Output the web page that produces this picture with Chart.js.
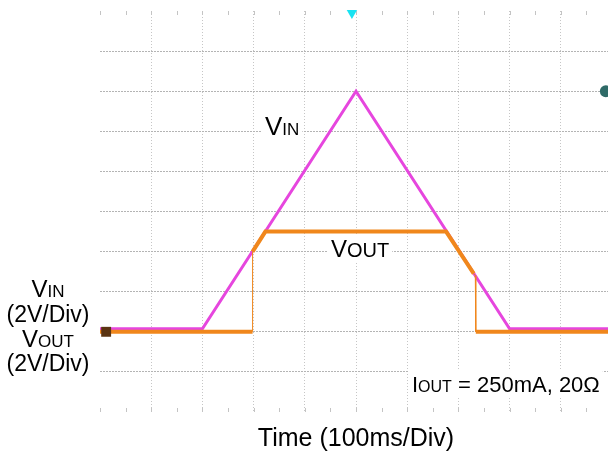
<!DOCTYPE html>
<html>
<head>
<meta charset="utf-8">
<script src="https://cdn.jsdelivr.net/npm/chart.js@4.4.0/dist/chart.umd.min.js"></script>
<style>
html, body { margin: 0; padding: 0; overflow: hidden; background: #fff; }
#wrap { position: relative; width: 612px; height: 454px; }
</style>
</head>
<body>
<div id="wrap"><canvas id="scope"></canvas></div>
<script>
// time in ms (100ms/div), volts (2V/div), both channel grounds on the same graticule line
const vinTime = [0, 200, 500, 800, 1000];
const vinVolts = [0.15, 0.15, 12, 0.15, 0.15];

const voutTime = [0, 298, 298, 323, 676, 730, 733, 734, 1000];
const voutVolts = [0, 0, 4.0, 5.0, 5.0, 2.9, 2.8, 0, 0];

// scope markers: ground level, trigger level, trigger position
const markerTime = [12, 988, 492];
const markerVolts = [0, 12, 15.9];

const timeTicks = [0, 100, 200, 300, 400, 500, 600, 700, 800, 900, 1000];
const voltTicks = [-4, -2, 0, 2, 4, 6, 8, 10, 12, 14, 16];
const minorTimeTicks = [];
for (let t = 0; t <= 1000; t += 50) minorTimeTicks.push(t);

const FONT = '"Liberation Sans", Arial, sans-serif';

const zip = (xs, ys) => xs.map((x, i) => ({ x: x, y: ys[i] }));

function richWidth(ctx, parts) {
    let w = 0;
    parts.forEach(p => { ctx.font = p[1] + 'px ' + FONT; w += ctx.measureText(p[0]).width; });
    return w;
}

function drawRich(ctx, parts, x, y, align, bg) {
    const w = richWidth(ctx, parts);
    let cx = align === 'center' ? x - w / 2 : x;
    if (bg) {
        ctx.fillStyle = '#fff';
        ctx.fillRect(cx - 3, y - 21, w + 6, 25);
    }
    ctx.fillStyle = '#000';
    ctx.textBaseline = 'alphabetic';
    ctx.textAlign = 'left';
    parts.forEach(p => {
        ctx.font = p[1] + 'px ' + FONT;
        ctx.fillText(p[0], cx, y);
        cx += ctx.measureText(p[0]).width;
    });
}

const scopeDecor = {
    id: 'scopeDecor',
    beforeDatasetsDraw(chart) {
        const { ctx, chartArea, scales } = chart;
        ctx.save();
        ctx.strokeStyle = '#c4c4c4';
        ctx.lineWidth = 1;
        minorTimeTicks.forEach(t => {
            const px = Math.round(scales.x.getPixelForValue(t)) + 0.5;
            ctx.beginPath();
            ctx.moveTo(px, chartArea.top);
            ctx.lineTo(px, chartArea.top + 4);
            ctx.moveTo(px, chartArea.bottom - 4);
            ctx.lineTo(px, chartArea.bottom);
            ctx.stroke();
        });
        ctx.restore();
    },
    afterDatasetsDraw(chart) {
        const ctx = chart.ctx;
        ctx.save();
        drawRich(ctx, [['V', 26], ['IN', 17]], 265, 135, 'left', true);
        drawRich(ctx, [['V', 24], ['OUT', 20]], 331, 257, 'left', true);
        drawRich(ctx, [['I', 22], ['OUT', 16], [' = 250mA, 20\u03a9', 22]], 412, 392, 'left', true);

        drawRich(ctx, [['V', 24], ['IN', 17]], 48, 297, 'center', false);
        drawRich(ctx, [['(2V/Div)', 23]], 48, 322, 'center', false);
        drawRich(ctx, [['V', 24], ['OUT', 17]], 48, 347, 'center', false);
        drawRich(ctx, [['(2V/Div)', 23]], 48, 371, 'center', false);
        ctx.restore();
    }
};

const edge = (ticks) => (c) => {
    const v = c.tick ? c.tick.value : null;
    return (v === ticks[0] || v === ticks[ticks.length - 1]) ? 'rgba(0,0,0,0)' : null;
};

new Chart(document.getElementById('scope'), {
    type: 'line',
    data: {
        datasets: [
            {
                label: 'markers',
                data: zip(markerTime, markerVolts),
                order: -1,
                showLine: false,
                clip: false,
                pointStyle: ['rect', 'circle', 'triangle'],
                rotation: [0, 0, 180],
                pointRadius: [7, 6, 6],
                pointBackgroundColor: ['#5b3412', '#2f6b68', '#19e3f2'],
                pointBorderWidth: 0,
                pointBorderColor: 'rgba(0,0,0,0)'
            },
            {
                label: 'VOUT',
                data: zip(voutTime, voutVolts),
                borderColor: '#f0871c',
                borderWidth: 4,
                pointRadius: 0,
                tension: 0,
                fill: false,
                segment: {
                    borderWidth: c => Math.abs(c.p1.x - c.p0.x) < 3 ? 1 : 4
                }
            },
            {
                label: 'VIN',
                data: zip(vinTime, vinVolts),
                borderColor: '#e646de',
                borderWidth: 3,
                pointRadius: 0,
                tension: 0,
                fill: false
            }
        ]
    },
    options: {
        responsive: true,
        maintainAspectRatio: false,
        animation: false,
        events: [],
        layout: { autoPadding: false, padding: { left: 100, top: 11, right: 0, bottom: 0 } },
        plugins: { legend: { display: false }, tooltip: { enabled: false } },
        scales: {
            x: {
                type: 'linear',
                min: 0,
                max: 1000,
                afterBuildTicks: s => { s.ticks = timeTicks.map(v => ({ value: v })); },
                ticks: { display: false },
                grid: {
                    drawTicks: false,
                    lineWidth: 1,
                    color: c => edge(timeTicks)(c) || '#c6c6c6'
                },
                border: { display: false, dash: [1, 2] },
                title: {
                    display: true,
                    text: 'Time (100ms/Div)',
                    color: '#000',
                    font: { family: FONT, size: 25 },
                    padding: { top: 12, bottom: 0 }
                }
            },
            y: {
                type: 'linear',
                min: -4,
                max: 16,
                afterBuildTicks: s => { s.ticks = voltTicks.map(v => ({ value: v })); },
                ticks: { display: false },
                grid: {
                    drawTicks: false,
                    lineWidth: 1,
                    color: c => edge(voltTicks)(c) || '#b4b4b4'
                },
                border: { display: false, dash: [2, 1] }
            }
        }
    },
    plugins: [scopeDecor]
});
</script>
</body>
</html>
